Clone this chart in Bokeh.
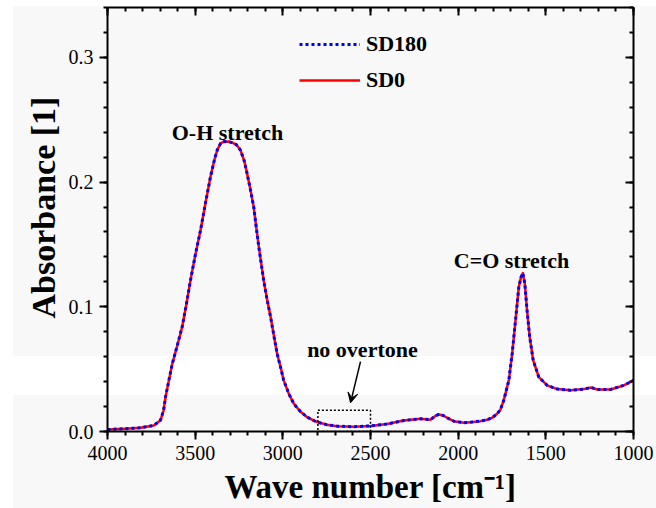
from bokeh.plotting import figure
from bokeh.models import (Range1d, LinearAxis, SingleIntervalTicker, NumeralTickFormatter,
                          CustomJSTickFormatter, Label, Legend, LegendItem, Arrow, VeeHead, Title)
from bokeh.embed import file_html
from bokeh.resources import INLINE

# ---- data ----
wavenumber = [4000, 3900, 3812, 3736, 3698, 3680, 3669, 3650, 3631, 3600, 3574, 3550, 3527,
              3500, 3470, 3440, 3413, 3390, 3374, 3355, 3336, 3310, 3289, 3265, 3242, 3220,
              3204, 3185, 3166, 3150, 3137, 3109, 3090, 3070, 3050, 3032, 3010, 2995, 2965,
              2937, 2900, 2861, 2820, 2795, 2750, 2690, 2595, 2500, 2405, 2310, 2215, 2158,
              2130, 2111, 2085, 2063, 2025, 1968, 1930, 1873, 1835, 1806, 1778, 1759, 1740,
              1711, 1692, 1673, 1654, 1641, 1631, 1620, 1607, 1592, 1572, 1540, 1492, 1435,
              1359, 1283, 1242, 1207, 1131, 1055, 1008, 1000]
sd0 = [0.0016, 0.0022, 0.0030, 0.0048, 0.0090, 0.0170, 0.0276, 0.0410, 0.0540, 0.0700, 0.0840,
       0.1020, 0.1210, 0.1410, 0.1610, 0.1840, 0.2040, 0.2180, 0.2257, 0.2310, 0.2324, 0.2325,
       0.2316, 0.2300, 0.2257, 0.2170, 0.2070, 0.1940, 0.1800, 0.1620, 0.1480, 0.1210, 0.1060,
       0.0920, 0.0760, 0.0620, 0.0500, 0.0410, 0.0300, 0.0222, 0.0160, 0.0115, 0.0085, 0.0072,
       0.0055, 0.0043, 0.0038, 0.0045, 0.0060, 0.0088, 0.0102, 0.0094, 0.0125, 0.0137, 0.0128,
       0.0110, 0.0083, 0.0070, 0.0075, 0.0083, 0.0094, 0.0110, 0.0142, 0.0175, 0.0250, 0.0410,
       0.0624, 0.0890, 0.1160, 0.1240, 0.1270, 0.1186, 0.0970, 0.0757, 0.0570, 0.0436, 0.0370,
       0.0340, 0.0330, 0.0340, 0.0353, 0.0337, 0.0337, 0.0370, 0.0404, 0.0410]
sd180 = [0.0016, 0.0022, 0.0030, 0.0048, 0.0090, 0.0170, 0.0276, 0.0410, 0.0540, 0.0700, 0.0840,
         0.1020, 0.1210, 0.1410, 0.1610, 0.1840, 0.2040, 0.2180, 0.2257, 0.2310, 0.2324, 0.2325,
         0.2316, 0.2300, 0.2257, 0.2170, 0.2070, 0.1940, 0.1800, 0.1620, 0.1480, 0.1210, 0.1060,
         0.0920, 0.0760, 0.0620, 0.0500, 0.0410, 0.0300, 0.0222, 0.0160, 0.0115, 0.0085, 0.0072,
         0.0055, 0.0043, 0.0038, 0.0045, 0.0060, 0.0088, 0.0102, 0.0094, 0.0125, 0.0137, 0.0128,
         0.0110, 0.0083, 0.0070, 0.0075, 0.0083, 0.0094, 0.0110, 0.0142, 0.0175, 0.0250, 0.0410,
         0.0624, 0.0890, 0.1160, 0.1240, 0.1270, 0.1186, 0.0970, 0.0757, 0.0570, 0.0436, 0.0370,
         0.0340, 0.0330, 0.0340, 0.0353, 0.0337, 0.0337, 0.0370, 0.0404, 0.0410]
series_names = ["SD180", "SD0"]
overtone_box_x = [2800, 2500]
overtone_box_y = [0.0, 0.017]

FONT = "Liberation Serif"

p = figure(width=656, height=508, output_backend="svg", toolbar_location=None,
           x_range=Range1d(4000, 1000), y_range=Range1d(0, 0.34),
           x_axis_location=None, y_axis_location=None,
           min_border_left=107, min_border_right=23, min_border_top=7, min_border_bottom=77)
p.border_fill_color = None
p.background_fill_color = None
p.outline_line_color = None
p.grid.visible = False
p.styles = {"background": "linear-gradient(to right, #ffffff 13px, transparent 13px), "
                          "linear-gradient(to bottom, #ffffff 6px, #f8f8f8 6px, #f8f8f8 356px, "
                          "#ffffff 356px, #ffffff 395px, #f8f8f8 395px)"}

xt = SingleIntervalTicker(interval=500, num_minor_ticks=5)
yt = SingleIntervalTicker(interval=0.1, num_minor_ticks=5)
blank = CustomJSTickFormatter(code="return ''")


def style_axis(ax, outward, show_labels):
    ax.axis_line_width = 2
    ax.axis_line_color = "black"
    ax.major_tick_line_width = 2
    ax.minor_tick_line_width = 2
    if outward:
        ax.major_tick_out, ax.major_tick_in = 8, 0
        ax.minor_tick_out, ax.minor_tick_in = 4, 0
    else:
        ax.major_tick_out, ax.major_tick_in = 0, 8
        ax.minor_tick_out, ax.minor_tick_in = 0, 4
    ax.major_label_text_font = FONT
    ax.major_label_text_font_size = "20px"
    ax.major_label_text_color = "black"
    ax.major_label_standoff = 6 if show_labels else 0


bottom = LinearAxis(ticker=xt, axis_label="Wave number [cm⁻¹]")
style_axis(bottom, True, True)
bottom.axis_label_text_font = FONT
bottom.axis_label_text_font_style = "bold"
bottom.axis_label_text_font_size = "33px"
bottom.axis_label_text_color = "black"
bottom.axis_label_standoff = 6
top = LinearAxis(ticker=xt, formatter=blank)
style_axis(top, False, False)
left = LinearAxis(ticker=yt, formatter=NumeralTickFormatter(format="0.0"))
style_axis(left, True, True)
right = LinearAxis(ticker=yt, formatter=blank)
style_axis(right, False, False)
p.add_layout(bottom, "below")
p.add_layout(top, "above")
p.add_layout(left, "left")
p.add_layout(right, "right")

ytitle = Title(text="Absorbance [1]", align="left", offset=113, text_font=FONT,
               text_font_style="bold", text_font_size="34px", text_color="black",
               standoff=8)
p.add_layout(ytitle, "left")

r0 = p.line(wavenumber, sd0, line_color="#ff0000", line_width=2.5, line_join="round")
r180 = p.line(wavenumber, sd180, line_color="#0000ff", line_width=3, line_dash="3 3")

p.quad(left=[overtone_box_x[0]], right=[overtone_box_x[1]],
       bottom=[overtone_box_y[0]], top=[overtone_box_y[1]],
       fill_color=None, line_color="black", line_width=1.5, line_dash="2 2")

p.add_layout(Arrow(end=VeeHead(size=10, fill_color="black", line_color="black"),
                   x_start=2557, y_start=0.056, x_end=2614, y_end=0.023,
                   line_color="black", line_width=1.5))

legend = Legend(items=[LegendItem(label=series_names[0], renderers=[r180]),
                       LegendItem(label=series_names[1], renderers=[r0])],
                location=(192, 338))
legend.label_text_font = FONT
legend.label_text_font_style = "bold"
legend.label_text_font_size = "22px"
legend.label_text_color = "black"
legend.label_height = 22
legend.glyph_height = 22
legend.glyph_width = 61
legend.label_standoff = 6
legend.spacing = 10
legend.padding = 0
legend.margin = 0
legend.border_line_color = None
legend.background_fill_alpha = 0
p.add_layout(legend)

for txt, x, y in [("O-H stretch", 3316, 0.240), ("C=O stretch", 1696, 0.1373),
                  ("no overtone", 2546, 0.066)]:
    p.add_layout(Label(x=x, y=y, text=txt, text_font=FONT, text_font_style="bold",
                       text_font_size="22px", text_align="center",
                       text_baseline="alphabetic", text_color="black"))

open("out.html", "w").write(file_html(p, INLINE))
